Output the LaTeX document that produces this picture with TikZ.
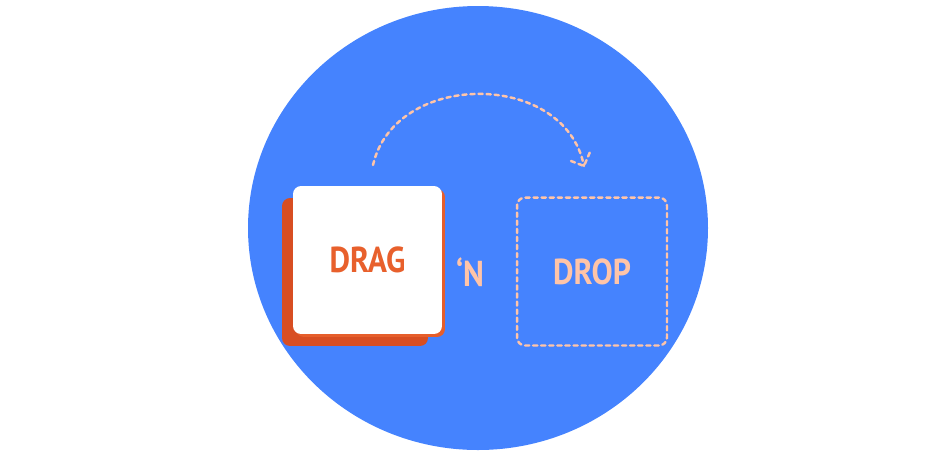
\documentclass[tikz,border=0pt]{standalone}
\usepackage{fontspec}
\usetikzlibrary{calc}
\newfontfamily\cardfont[FakeStretch=0.88]{PT Sans}
\definecolor{discblue}{HTML}{4583FE}
\definecolor{dragred}{HTML}{E8602C}
\definecolor{backred}{HTML}{D84E22}
\definecolor{peach}{HTML}{FFC4A8}

\begin{document}
\begin{tikzpicture}[x=0.02cm,y=-0.02cm]
\tikzstyle{every node}+=[inner sep=0pt]
\tikzstyle{card}=[rounded corners=0.16cm, minimum width=2.98cm, minimum height=2.96cm]
\tikzstyle{cardtext}=[font=\cardfont\bfseries\fontsize{20.5}{21}\selectfont]
\tikzstyle{dashline}=[peach, line width=1.4pt, dash pattern=on 2.4pt off 2.2pt, line cap=round]
\useasboundingbox (0,0) rectangle (950,451);
% disc
\fill [discblue] (478,228) ellipse [x radius=230, y radius=222];
% drag card with its two back layers
\node [card, fill=backred, minimum width=2.92cm] (back) at (355,272) {};
\node [card, fill=dragred!90!backred] (shade) at (370.5,263) {};
\node [card, fill=white, cardtext, text=dragred] (drag) at (367.5,260) {DRAG};
\node [cardtext, text=peach] (and) at (470,272.5) {‘N};
% drop target
\node [card, dashline, draw, minimum width=3cm, cardtext, text=peach] (drop) at (592,271.5) {DROP};
% arc with arrow head
\coordinate (from) at (373,165);
\coordinate (to) at (584,166);
\draw [dashline] (from) .. controls (395,70) and (565,70) .. (to);
\draw [dashline] ($(to)+(-13,-5)$) -- (to) -- ($(to)+(6,-14)$);
\end{tikzpicture}
\end{document}
